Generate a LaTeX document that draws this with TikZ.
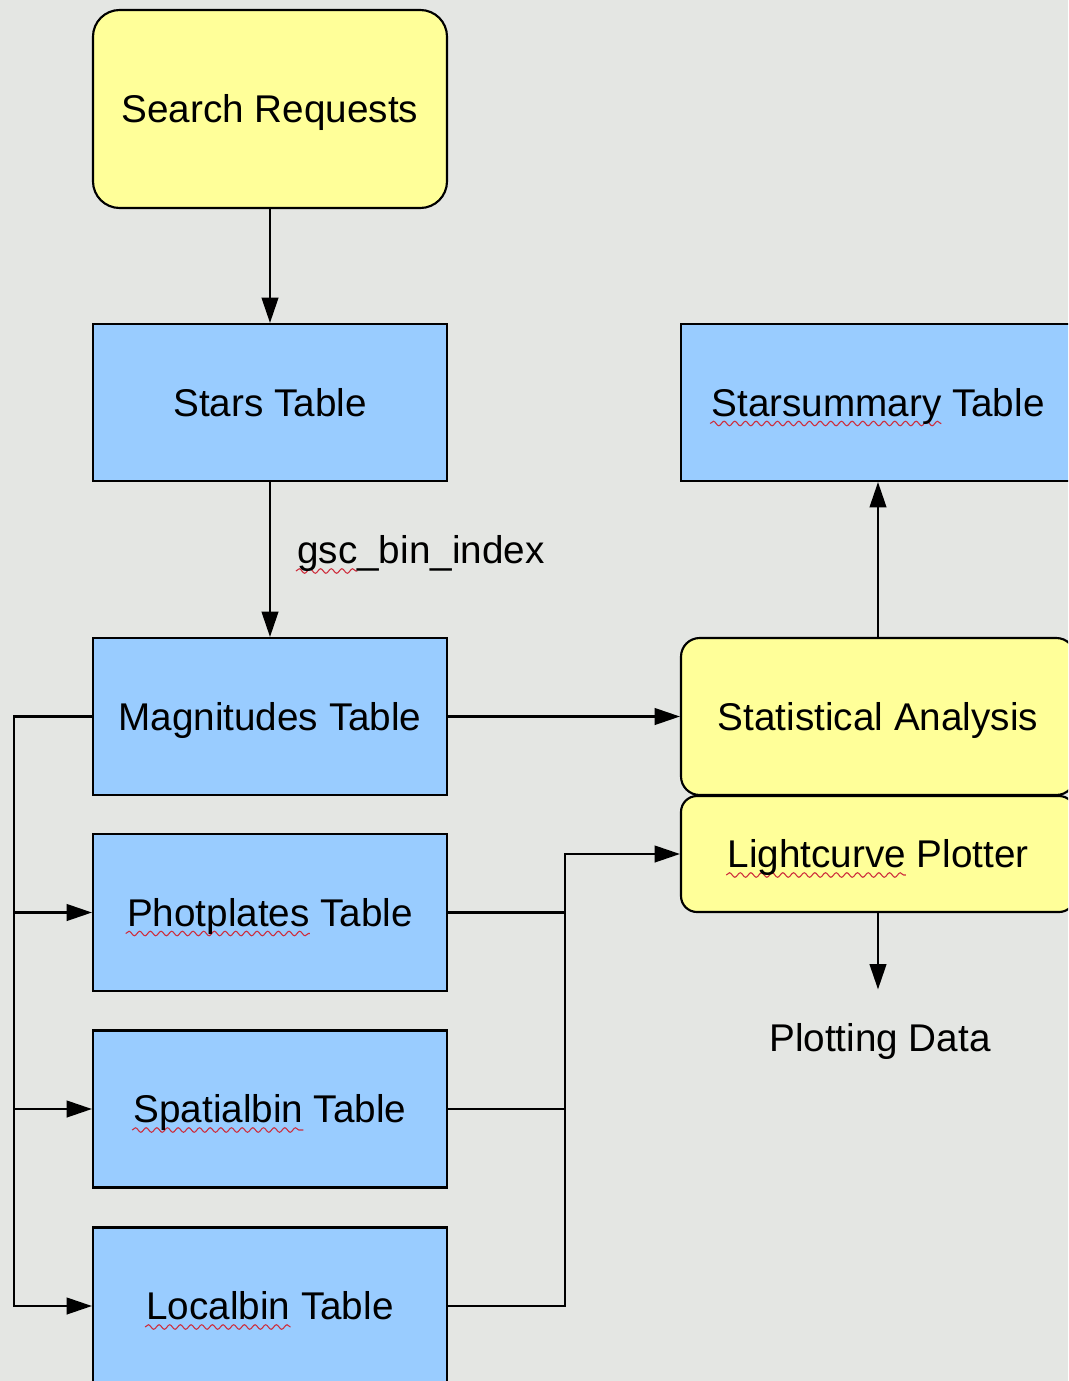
\documentclass[tikz,border=0pt]{standalone}
\usepackage{fontspec}
\setmainfont{Liberation Sans}
\usetikzlibrary{arrows.meta,decorations.pathmorphing}
\definecolor{bg}{RGB}{228,230,227}
\definecolor{yel}{RGB}{255,255,153}
\definecolor{blu}{RGB}{153,204,255}
\definecolor{squig}{RGB}{205,45,60}
\newlength\sqlen
\newcommand\sqw[1]{\settowidth\sqlen{#1}\makebox[0pt][l]{\tikz[overlay,x=1pt,y=1pt]\draw[squig,-,sharp corners,solid,line width=0.8pt,decorate,decoration={snake,amplitude=1.7pt,segment length=8pt}] (-1pt,-5.5pt) -- (\sqlen,-5.5pt);}#1}
\begin{document}
\begin{tikzpicture}[x=0.75pt,y=-0.75pt,
  font=\fontsize{29}{34}\selectfont,
  box/.style={draw=black, line width=1.6pt, fill=blu, minimum width=265.5pt,
    minimum height=117.75pt, inner sep=0pt, text height=20.5pt, text depth=0pt},
  rbox/.style={draw=black, line width=1.6pt, fill=yel, inner sep=0pt,
    text height=20.5pt, text depth=0pt},
  conn/.style={line width=1.6pt, draw=black},
  arr/.style={conn, -{Triangle[length=19pt,width=12.5pt]}},
  lbl/.style={inner sep=0pt, text height=20.5pt, text depth=0pt}]
\useasboundingbox (0,0) rectangle (1068,1381);
\clip (0,0) rectangle (1068,1381);
\fill[bg] (0,0) rectangle (1068,1381);

\node[rbox, rounded corners=20pt, minimum width=265.5pt, minimum height=148.5pt] (sr) at (270,109) {Search Requests};
\node[box] (stars) at (270,402.5) {Stars Table};
\node[box] (mag) at (270,716.5) {Magnitudes Table};
\node[box] (phot) at (270,912.5) {\sqw{Photplates} Table};
\node[box] (spat) at (270,1109) {\sqw{Spatialbin} Table};
\node[box] (loc) at (270,1306) {\sqw{Localbin} Table};
\node[box, minimum width=295.5pt] (ss) at (878,402.5) {\sqw{Starsummary} Table};
\node[rbox, rounded corners=14pt, minimum width=295.5pt, minimum height=117.75pt] (stat) at (878,716.5) {Statistical Analysis};
\node[rbox, rounded corners=12pt, minimum width=295.5pt, minimum height=87pt] (lc) at (878,854) {\sqw{Lightcurve} Plotter};
\node[lbl] (pd) at (880,1038) {Plotting Data};
\coordinate (pdtop) at ([yshift=26pt]pd.north);
\coordinate (bl) at (14,0);
\coordinate (br) at (565,0);

\draw[arr] (sr) -- (stars);
\draw[arr] (stars) -- (mag);
\node[lbl, anchor=west] (gsc) at (297,550) {\sqw{gsc}\_bin\_index};
\draw[arr] (mag) -- (stat);
\draw[arr] (stat) -- (ss);
\draw[arr] (lc) -- (lc.south |- pdtop);

\draw[arr] (mag.west) -- (mag.west -| bl) -- (loc.west -| bl) -- (loc.west);
\draw[arr] (phot.west -| bl) -- (phot.west);
\draw[arr] (spat.west -| bl) -- (spat.west);

\draw[arr] (loc.east) -- (loc.east -| br) -- (lc.west -| br) -- (lc.west);
\draw[conn] (phot.east) -- (phot.east -| br);
\draw[conn] (spat.east) -- (spat.east -| br);
\end{tikzpicture}
\end{document}
